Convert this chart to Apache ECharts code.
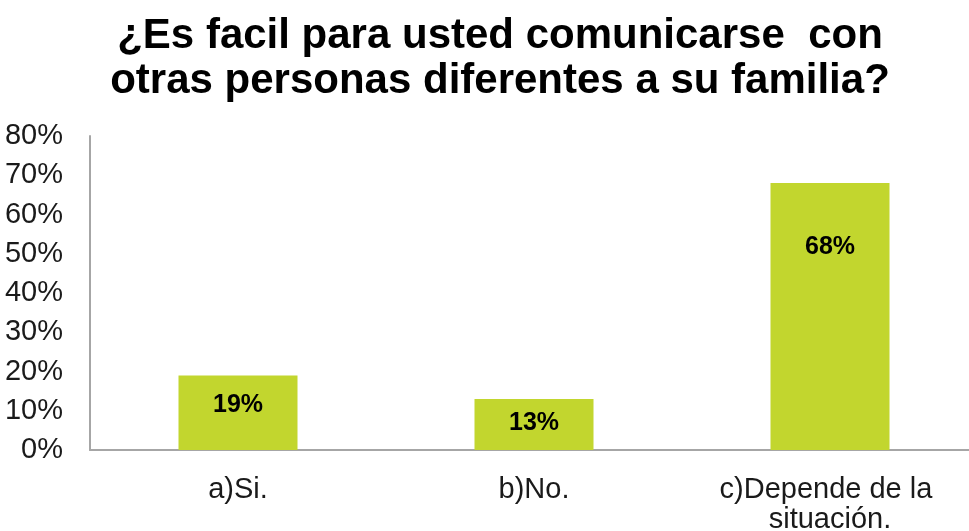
<!DOCTYPE html>
<html>
<head>
<meta charset="utf-8">
<script src="https://cdn.jsdelivr.net/npm/echarts@6/dist/echarts.min.js"></script>
<style>
  html, body { margin: 0; padding: 0; background: #fff; overflow: hidden; }
  /* a bit wider than the window: the category axis runs off the right edge */
  #main { width: 978px; height: 531px; }
</style>
</head>
<body>
<div id="main"></div>
<script>
const chart = echarts.init(document.getElementById('main'));

const titleText = '¿Es facil para usted comunicarse  con\notras personas diferentes a su familia?';
const categories = ['a)Si.', 'b)No.', 'c)Depende de la situación.'];
const values = [19, 13, 68];
const yTicks = [0, 10, 20, 30, 40, 50, 60, 70, 80];

// how far each value label sits below its bar top
const labelDistances = [17, 12, 52];

chart.setOption({
  title: {
    text: titleText,
    left: 500,
    top: 14,
    textAlign: 'center',
    padding: 0,
    textStyle: {
      fontFamily: 'Liberation Sans',
      fontWeight: 'bold',
      fontSize: 42,
      lineHeight: 45,
      color: '#000'
    }
  },
  grid: {
    left: 90,
    right: 0,
    top: 136,
    bottom: 81,
    outerBoundsMode: 'none'
  },
  xAxis: {
    type: 'category',
    data: categories,
    axisLine: { lineStyle: { color: '#a6a6a6', width: 2 } },
    axisTick: { show: false },
    axisLabel: {
      interval: 0,
      margin: 25,
      fontFamily: 'Liberation Sans',
      fontSize: 29,
      lineHeight: 30,
      color: '#1a1a1a',
      width: 270,
      overflow: 'break'
    }
  },
  yAxis: {
    type: 'value',
    min: yTicks[0],
    max: yTicks[yTicks.length - 1],
    interval: 10,
    splitLine: { show: false },
    axisLine: { show: true, lineStyle: { color: '#a6a6a6', width: 2 } },
    axisTick: { show: false },
    axisLabel: {
      margin: 27,
      fontFamily: 'Liberation Sans',
      fontSize: 29,
      color: '#1a1a1a',
      formatter: '{value}%'
    }
  },
  series: [{
    type: 'bar',
    barWidth: 119,
    itemStyle: { color: '#c2d62e' },
    data: values.map((v, i) => ({
      value: v,
      label: { distance: labelDistances[i] }
    })),
    label: {
      show: true,
      position: 'insideTop',
      fontFamily: 'Liberation Sans',
      fontWeight: 'bold',
      fontSize: 25,
      color: '#000',
      formatter: '{c}%'
    }
  }]
});
</script>
</body>
</html>
